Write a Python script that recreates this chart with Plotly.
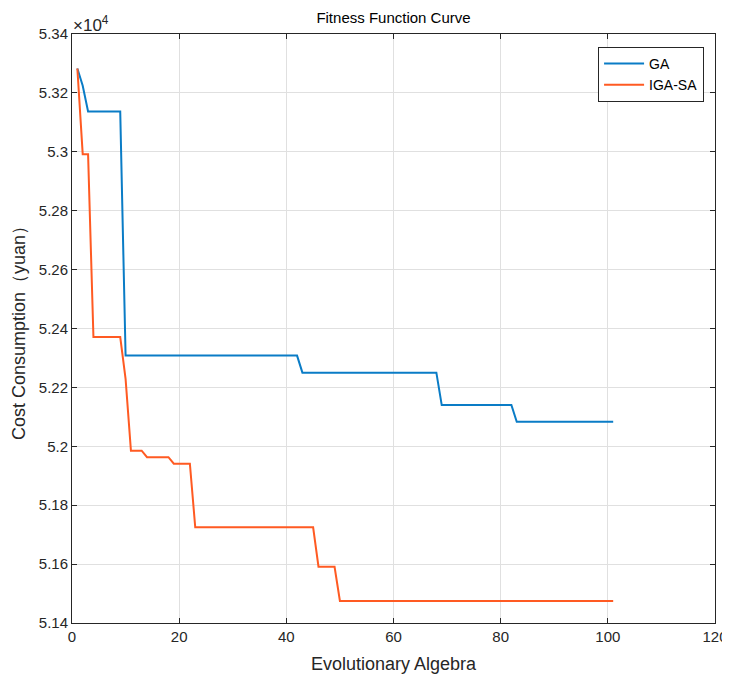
import plotly.graph_objects as go

# Generation (x) at each corner of the step curves and the cost values (yuan)
ga_gen = [1, 2, 3, 9, 10, 42, 43, 68, 69, 82, 83, 101]
ga_cost = [53283, 53224, 53137, 53137, 52308, 52308, 52250, 52250, 52140, 52140, 52083, 52083]

igasa_gen = [1, 2, 3, 4, 9, 10, 11, 13, 14, 18, 19, 22, 23, 45, 46, 49, 50, 101]
igasa_cost = [53283, 52992, 52992, 52371, 52371, 52229, 51985, 51985, 51963, 51963,
              51941, 51941, 51725, 51725, 51591, 51591, 51475, 51475]

x_ticks = [0, 20, 40, 60, 80, 100, 120]
y_tickvals = [51400, 51600, 51800, 52000, 52200, 52400, 52600, 52800, 53000, 53200, 53400]
y_ticktext = ["5.14", "5.16", "5.18", "5.2", "5.22", "5.24", "5.26", "5.28", "5.3", "5.32", "5.34"]

FONT = "Liberation Sans, Arial, sans-serif"
AX = "#262626"
GRID = "#e0e0e0"

fig = go.Figure()
fig.add_trace(go.Scatter(x=ga_gen, y=ga_cost, mode="lines", name="GA",
                         line=dict(color="#0a7cc6", width=2)))
fig.add_trace(go.Scatter(x=igasa_gen, y=igasa_cost, mode="lines", name="IGA-SA",
                         line=dict(color="#ff5a22", width=2)))

axis_common = dict(showline=True, linecolor=AX, linewidth=1, mirror="ticks",
                   ticks="inside", ticklen=5, tickcolor=AX, tickwidth=1,
                   showgrid=True, gridcolor=GRID, gridwidth=1, zeroline=False,
                   automargin=False, ticklabeloverflow="allow",
                   tickfont=dict(family=FONT, size=15, color=AX))

fig.update_xaxes(range=[0, 120], tickvals=x_ticks,
                 title=dict(text="Evolutionary Algebra", font=dict(family=FONT, size=18, color=AX), standoff=14),
                 **axis_common)
fig.update_yaxes(range=[51400, 53400], tickvals=y_tickvals, ticktext=y_ticktext,
                 title=dict(text="Cost Consumption（yuan）", font=dict(family=FONT, size=18, color=AX), standoff=8),
                 **axis_common)

fig.add_annotation(xref="paper", yref="paper", x=0, y=1, xanchor="left", yanchor="bottom",
                   text="×10<sup>4</sup>", showarrow=False, yshift=-3, xshift=-1,
                   font=dict(family=FONT, size=17, color=AX))

# page body has an 8px margin, so the figure is offset by 8px
fig.update_layout(
    width=722, height=666,
    margin=dict(l=64, r=15, t=26, b=51),
    paper_bgcolor="white", plot_bgcolor="white",
    title=dict(text="Fitness Function Curve", x=0.5, xanchor="center", xref="paper",
               y=1 - 10 / 666, yanchor="middle", font=dict(family=FONT, size=15, color="#000000")),
    legend=dict(x=0.983, y=0.978, xanchor="right", yanchor="top",
                bgcolor="white", bordercolor=AX, borderwidth=1,
                font=dict(family=FONT, size=14, color="#000000"),
                tracegroupgap=0, itemwidth=40),
    showlegend=True,
)

fig.write_html("out.html")
